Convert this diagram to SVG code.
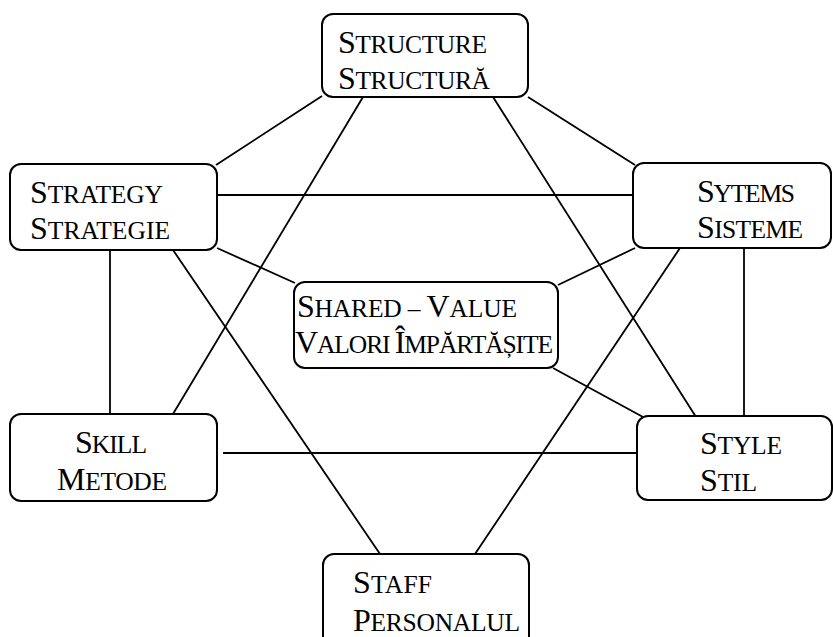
<svg xmlns="http://www.w3.org/2000/svg" width="833" height="637" viewBox="0 0 833 637">
<style>
.box{fill:#fff;stroke:#000;stroke-width:2}
.ln{stroke:#000;stroke-width:1.8;fill:none}
text{font-family:"Liberation Serif","Times New Roman",serif;fill:#000}
.b{font-size:32px}
.s{font-size:25.5px}
</style>
<rect width="833" height="637" fill="#fff"/>
<g id="connectors">
<line class="ln" x1="322" y1="96" x2="216" y2="165"/>
<line class="ln" x1="363" y1="97" x2="173" y2="414"/>
<line class="ln" x1="493" y1="97" x2="696" y2="417"/>
<line class="ln" x1="528" y1="97" x2="635" y2="165"/>
<line class="ln" x1="217" y1="195" x2="633" y2="195"/>
<line class="ln" x1="217" y1="248" x2="295" y2="283"/>
<line class="ln" x1="110" y1="250" x2="110" y2="414"/>
<line class="ln" x1="173" y1="250" x2="380" y2="554"/>
<line class="ln" x1="635" y1="248" x2="558" y2="285"/>
<line class="ln" x1="680" y1="248" x2="475" y2="554"/>
<line class="ln" x1="744" y1="248" x2="744" y2="416"/>
<line class="ln" x1="553" y1="368" x2="643" y2="417"/>
<line class="ln" x1="223" y1="453" x2="637" y2="453"/>
</g>
<g id="structure">
<rect class="box" x="322" y="14" width="206" height="83" rx="11"/>
<text x="338" y="53" textLength="149"><tspan class="b">S</tspan><tspan class="s">TRUCTURE</tspan></text>
<text x="338" y="89" textLength="152"><tspan class="b">S</tspan><tspan class="s">TRUCTURĂ</tspan></text>
</g>
<g id="strategy">
<rect class="box" x="10" y="164" width="207" height="86" rx="11"/>
<text x="30" y="203" textLength="133"><tspan class="b">S</tspan><tspan class="s">TRATEGY</tspan></text>
<text x="30" y="239" textLength="140"><tspan class="b">S</tspan><tspan class="s">TRATEGIE</tspan></text>
</g>
<g id="systems">
<rect class="box" x="633" y="163" width="198" height="85" rx="11"/>
<text x="697" y="202" textLength="98"><tspan class="b">S</tspan><tspan class="s">YTEMS</tspan></text>
<text x="697" y="238" textLength="106"><tspan class="b">S</tspan><tspan class="s">ISTEME</tspan></text>
</g>
<g id="shared-value">
<rect class="box" x="294" y="282" width="264" height="86" rx="11"/>
<text x="297" y="317" textLength="220"><tspan class="b">S</tspan><tspan class="s">HARED – </tspan><tspan class="b">V</tspan><tspan class="s">ALUE</tspan></text>
<text x="295" y="353" textLength="258"><tspan class="b">V</tspan><tspan class="s">ALORI </tspan><tspan class="b">Î</tspan><tspan class="s">MPĂRTĂȘITE</tspan></text>
</g>
<g id="skill">
<rect class="box" x="10" y="414" width="207" height="87" rx="11"/>
<text x="75" y="453" textLength="72"><tspan class="b">S</tspan><tspan class="s">KILL</tspan></text>
<text x="57" y="490" textLength="110"><tspan class="b">M</tspan><tspan class="s">ETODE</tspan></text>
</g>
<g id="style">
<rect class="box" x="637" y="416" width="195" height="84" rx="11"/>
<text x="700" y="454" textLength="82"><tspan class="b">S</tspan><tspan class="s">TYLE</tspan></text>
<text x="700" y="491" textLength="57"><tspan class="b">S</tspan><tspan class="s">TIL</tspan></text>
</g>
<g id="staff">
<rect class="box" x="323" y="554" width="206" height="100" rx="11"/>
<text x="353" y="593" textLength="79"><tspan class="b">S</tspan><tspan class="s">TAFF</tspan></text>
<text x="353" y="631" textLength="167"><tspan class="b">P</tspan><tspan class="s">ERSONALUL</tspan></text>
</g>
</svg>
